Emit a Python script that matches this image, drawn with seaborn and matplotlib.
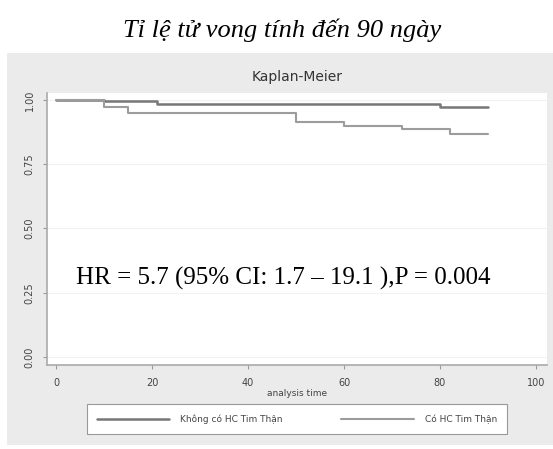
import pandas as pd
import numpy as np
import seaborn as sns
import matplotlib.pyplot as plt
from matplotlib.patches import Rectangle

# survival steps
t_khong = [0, 10, 21, 80, 90]
s_khong = [1.0, 0.994, 0.984, 0.974, 0.974]
t_co = [0, 10, 15, 50, 60, 72, 82, 90]
s_co = [1.0, 0.974, 0.948, 0.916, 0.899, 0.886, 0.868, 0.868]
groups = ['Không có HC Tim Thận', 'Có HC Tim Thận']
xticks = [0, 20, 40, 60, 80, 100]
yticks = [0.00, 0.25, 0.50, 0.75, 1.00]

data = pd.concat([
    pd.DataFrame({'time': t_khong, 'surv': s_khong, 'group': groups[0]}),
    pd.DataFrame({'time': t_co, 'surv': s_co, 'group': groups[1]}),
])

sns.set_style('white')
plt.rcParams['font.family'] = ['DejaVu Sans']

W, H = 553, 449
fig = plt.figure(figsize=(W / 100, H / 100), dpi=100)
fig.patch.set_facecolor('white')

# stata grey graph region
fig.patches.append(Rectangle((7 / W, 1 - 445 / H), 546 / W, (445 - 53) / H,
                             transform=fig.transFigure, facecolor='#ebebeb',
                             edgecolor='none', zorder=-5))

ax = fig.add_axes([47 / W, 1 - 365 / H, 500 / W, (365 - 93) / H])
ax.set_zorder(1)
ax.set_facecolor('white')

p = sns.lineplot(data=data, x='time', y='surv', hue='group', hue_order=groups,
                 palette=['#777777', '#9c9c9c'], drawstyle='steps-post',
                 ax=ax, legend=False)
p.lines[0].set_linewidth(1.8)
p.lines[1].set_linewidth(1.5)

ax.set_xlim(-1.9, 102.3)
ax.set_ylim(-0.031, 1.027)
ax.set_xticks(xticks)
ax.set_xticklabels([str(v) for v in xticks], fontsize=7, color='#444444')
ax.set_yticks(yticks)
ax.set_yticklabels(['%.2f' % v for v in yticks], fontsize=7, color='#444444',
                   rotation=90, va='center')
for yv in yticks:
    ax.axhline(yv, color='#f2f2f2', lw=0.8, zorder=0)
ax.tick_params(axis='both', length=3, width=0.8, color='#999999', pad=6,
               direction='out', bottom=True, left=True)
for s in ['top', 'right']:
    ax.spines[s].set_visible(False)
for s in ['left', 'bottom']:
    ax.spines[s].set_color('#aaaaaa')
    ax.spines[s].set_linewidth(1.2)
ax.set_xlabel('analysis time', fontsize=6.5, color='#444444', labelpad=1)
ax.set_ylabel('')

fig.text(297 / W, 1 - 77 / H, 'Kaplan-Meier', ha='center', va='center',
         fontsize=10, color='#333333')
fig.text(282 / W, 1 - 30 / H, 'Tỉ lệ tử vong tính đến 90 ngày', ha='center',
         va='center', fontsize=19, style='italic', family='Liberation Serif',
         color='black')
ax.text(76 / W, 1 - 278 / H, 'HR = 5.7 (95% CI: 1.7 – 19.1 ),P = 0.004',
        transform=fig.transFigure, ha='left', va='center', fontsize=18,
        family='Liberation Serif', color='black', zorder=5)

leg = fig.legend(p.lines[:2], groups, loc='center', ncol=2,
                 bbox_to_anchor=(297 / W, 1 - 419 / H), fontsize=6.5,
                 frameon=True, fancybox=False, handlelength=8,
                 columnspacing=6.5, borderpad=1.1, handletextpad=1.2)
leg.get_frame().set_edgecolor('#999999')
leg.get_frame().set_facecolor('white')
leg.get_frame().set_alpha(1)
leg.get_frame().set_linewidth(0.8)
for txt in leg.get_texts():
    txt.set_color('#444444')

fig.savefig('out.png', dpi=100)
